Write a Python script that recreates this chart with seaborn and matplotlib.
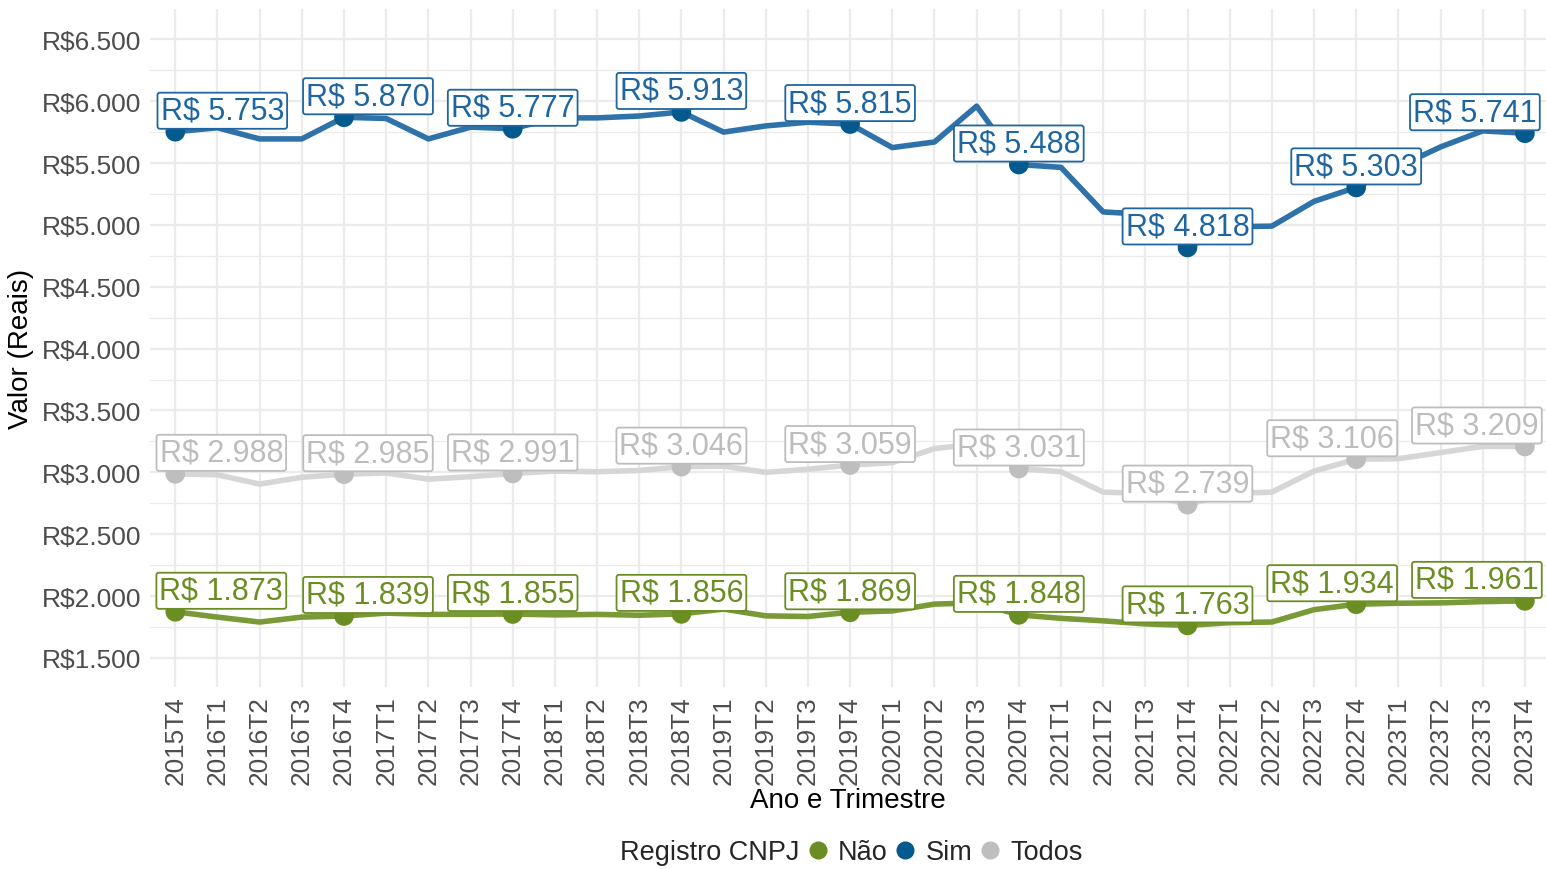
import numpy as np
import pandas as pd
import matplotlib
matplotlib.use("Agg")
import matplotlib.pyplot as plt
import seaborn as sns
from matplotlib.lines import Line2D
from matplotlib.ticker import MultipleLocator, FixedLocator

quarters = ["2015T4",
            "2016T1", "2016T2", "2016T3", "2016T4",
            "2017T1", "2017T2", "2017T3", "2017T4",
            "2018T1", "2018T2", "2018T3", "2018T4",
            "2019T1", "2019T2", "2019T3", "2019T4",
            "2020T1", "2020T2", "2020T3", "2020T4",
            "2021T1", "2021T2", "2021T3", "2021T4",
            "2022T1", "2022T2", "2022T3", "2022T4",
            "2023T1", "2023T2", "2023T3", "2023T4"]

sim = [5753, 5785, 5695, 5695, 5870, 5860, 5695, 5790, 5777,
       5865, 5865, 5880, 5913, 5750, 5800, 5830, 5815,
       5625, 5670, 5960, 5488, 5465, 5105, 5085, 4818,
       4985, 4990, 5190, 5303, 5470, 5630, 5760, 5741]
todos = [2988, 2980, 2905, 2960, 2985, 2995, 2945, 2965, 2991,
         3010, 3005, 3015, 3046, 3050, 3000, 3025, 3059,
         3078, 3192, 3230, 3031, 3005, 2840, 2830, 2739,
         2830, 2840, 3010, 3106, 3110, 3160, 3210, 3209]
nao = [1873, 1830, 1790, 1830, 1839, 1862, 1852, 1852, 1855,
       1848, 1852, 1845, 1856, 1895, 1840, 1835, 1869,
       1880, 1935, 1945, 1848, 1820, 1800, 1775, 1763,
       1785, 1790, 1890, 1934, 1942, 1945, 1955, 1961]

series_names = ["Não", "Sim", "Todos"]
series_vals = {"Não": nao, "Sim": sim, "Todos": todos}
dot_colors = {"Não": "#6B8E23", "Sim": "#045A8D", "Todos": "#BEBEBE"}
line_colors = {"Não": "#7A9A38", "Sim": "#2F72AA", "Todos": "#D6D6D6"}

rows = []
for s in series_names:
    for i, (q, v) in enumerate(zip(quarters, series_vals[s])):
        rows.append({"idx": i, "Trimestre": q, "Valor": v, "Registro CNPJ": s})
df = pd.DataFrame(rows)
df["T4"] = df["Trimestre"].str.endswith("T4")
pts = df[df["T4"]]

sns.set_theme(style="whitegrid")
plt.rcParams["font.family"] = ["Liberation Sans", "DejaVu Sans"]

fig = plt.figure(figsize=(15.46, 8.70), dpi=100)
ax = fig.add_axes([150 / 1546, 1 - 688 / 870, 1 - 150 / 1546, (688 - 10) / 870])
ax.set_facecolor("white")

sns.lineplot(data=df, x="idx", y="Valor", hue="Registro CNPJ", hue_order=series_names,
             palette=line_colors, linewidth=4.0, legend=False, ax=ax, zorder=3)
sns.scatterplot(data=pts, x="idx", y="Valor", hue="Registro CNPJ", hue_order=series_names,
                palette=dot_colors, s=200, edgecolor="none", legend=False, ax=ax, zorder=4)

# label offsets (pixels) for the 9 T4 labels
dx_sim = [47, 24, 0, 0, 0, 0, 0, 0, -50]
dx_other = [46, 24, 0, 0, 0, 0, 0, -24, -48]
label_text_colors = {"Não": "#6B8E23", "Sim": "#1F66A0", "Todos": "#BDBDBD"}
for s in series_names:
    sub = pts[pts["Registro CNPJ"] == s].reset_index(drop=True)
    dxs = dx_sim if s == "Sim" else dx_other
    for k, r in sub.iterrows():
        txt = "R$ " + f"{int(r['Valor']):,}".replace(",", ".")
        ax.annotate(txt, (r["idx"], r["Valor"]), xytext=(dxs[k], 21),
                    textcoords="offset pixels", ha="center", va="center",
                    fontsize=22, color=label_text_colors[s], zorder=6,
                    bbox=dict(boxstyle="round,pad=0.1,rounding_size=0.08",
                              fc="white", ec=label_text_colors[s], lw=1.3))

ax.set_xlim(-0.6, 32.5)
ax.set_ylim(1265, 6745)
ax.set_xticks(range(len(quarters)))
ax.set_xticklabels(quarters, rotation=90, fontsize=18.8, color="#4D4D4D")
yt = list(range(1500, 7000, 500))
ax.yaxis.set_major_locator(FixedLocator(yt))
ax.set_yticklabels(["R$" + f"{v:,}".replace(",", ".") for v in yt], fontsize=19, color="#4D4D4D")
ax.yaxis.set_minor_locator(MultipleLocator(250))
ax.grid(which="major", color="#EBEBEB", linewidth=1.6)
ax.grid(which="minor", axis="y", color="#EBEBEB", linewidth=0.9)
ax.tick_params(axis="both", which="both", length=0, pad=6)
for sp in ax.spines.values():
    sp.set_visible(False)

ax.set_xlabel("Ano e Trimestre", fontsize=20, color="black", labelpad=2)
ax.set_ylabel("Valor (Reais)", fontsize=20, color="black", labelpad=6)

# legend
fig.text(620 / 1546, 1 - 853 / 870, "Registro CNPJ", fontsize=19.5, ha="left", va="center")
handles = [Line2D([0], [0], marker="o", linestyle="none", markersize=13,
                  markerfacecolor=dot_colors[s], markeredgecolor="none") for s in series_names]
fig.legend(handles, series_names, loc="center left", bbox_to_anchor=(804 / 1546, 1 - 853 / 870),
           ncol=3, frameon=False, fontsize=19.5, handletextpad=0.25, columnspacing=0.15,
           handlelength=1.0, borderpad=0, borderaxespad=0)

fig.savefig("out.png", dpi=100)
